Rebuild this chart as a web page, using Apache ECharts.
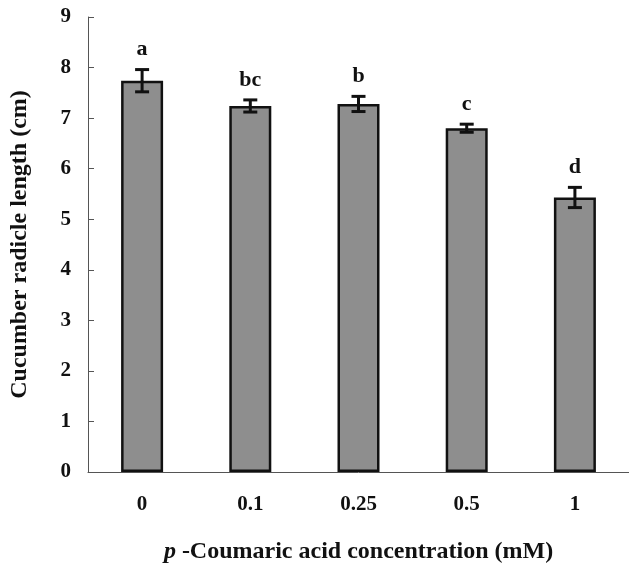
<!DOCTYPE html>
<html>
<head>
<meta charset="utf-8">
<script src="https://cdn.jsdelivr.net/npm/echarts@6/dist/echarts.min.js"></script>
<style>
html,body{margin:0;padding:0;background:#fff;}
#chart{width:629px;height:569px;}
</style>
</head>
<body>
<div id="chart"></div>
<script>
var categories = ['0', '0.1', '0.25', '0.5', '1'];
var means = [7.74, 7.24, 7.28, 6.80, 5.43];
var errors = [0.22, 0.12, 0.15, 0.08, 0.20];
var letters = ['a', 'bc', 'b', 'c', 'd'];
var yTicks = [0, 1, 2, 3, 4, 5, 6, 7, 8, 9];

var FONT = '"Liberation Serif", "Times New Roman", serif';

var errData = categories.map(function (c, i) { return [i, means[i], errors[i]]; });

var chart = echarts.init(document.getElementById('chart'), null, {renderer: 'canvas'});
chart.setOption({
  backgroundColor: '#ffffff',
  animation: false,
  grid: {left: 85, right: 0, top: 17, bottom: 84, containLabel: false},
  xAxis: {
    type: 'category',
    data: categories,
    boundaryGap: true,
    axisLine: {lineStyle: {color: '#555', width: 1}},
    axisTick: {inside: true, length: 5, lineStyle: {color: '#555'}},
    axisLabel: {margin: 22, fontFamily: FONT, fontWeight: 'bold', fontSize: 21, color: '#111'},
    name: '{i|p} -Coumaric acid concentration (mM)',
    nameLocation: 'middle',
    nameGap: 68,
    nameTextStyle: {
      fontFamily: FONT, fontWeight: 'bold', fontSize: 24, color: '#111',
      rich: {i: {fontFamily: FONT, fontStyle: 'italic', fontWeight: 'bold', fontSize: 24, color: '#111'}}
    }
  },
  yAxis: {
    type: 'value',
    min: yTicks[0],
    max: yTicks[yTicks.length - 1],
    interval: 1,
    splitLine: {show: false},
    axisLine: {show: true, lineStyle: {color: '#555', width: 1}},
    axisTick: {show: true, inside: true, length: 6, lineStyle: {color: '#555'}},
    axisLabel: {margin: 17, fontFamily: FONT, fontWeight: 'bold', fontSize: 21, color: '#111'},
    name: 'Cucumber radicle length (cm)',
    nameLocation: 'middle',
    nameGap: 56,
    nameTextStyle: {fontFamily: FONT, fontWeight: 'bold', fontSize: 24, color: '#111'}
  },
  series: [
    {
      type: 'bar',
      data: means,
      barWidth: 42,
      itemStyle: {color: '#8e8e8e', borderColor: '#111', borderWidth: 2.5},
      z: 2
    },
    {
      type: 'custom',
      data: errData,
      z: 5,
      renderItem: function (params, api) {
        var i = api.value(0), m = api.value(1), e = api.value(2);
        var top = api.coord([i, m + e]);
        var bot = api.coord([i, m - e]);
        var hw = 7;
        var st = {stroke: '#111', lineWidth: 3};
        return {
          type: 'group',
          children: [
            {type: 'line', shape: {x1: top[0], y1: top[1], x2: bot[0], y2: bot[1]}, style: st},
            {type: 'line', shape: {x1: top[0] - hw, y1: top[1], x2: top[0] + hw, y2: top[1]}, style: st},
            {type: 'line', shape: {x1: bot[0] - hw, y1: bot[1], x2: bot[0] + hw, y2: bot[1]}, style: st},
            {type: 'text', x: top[0], y: top[1] - 20, style: {
              text: letters[params.dataIndex], fill: '#111', font: 'bold 22px ' + FONT,
              align: 'center', verticalAlign: 'middle'
            }}
          ]
        };
      }
    }
  ]
});
</script>
</body>
</html>
